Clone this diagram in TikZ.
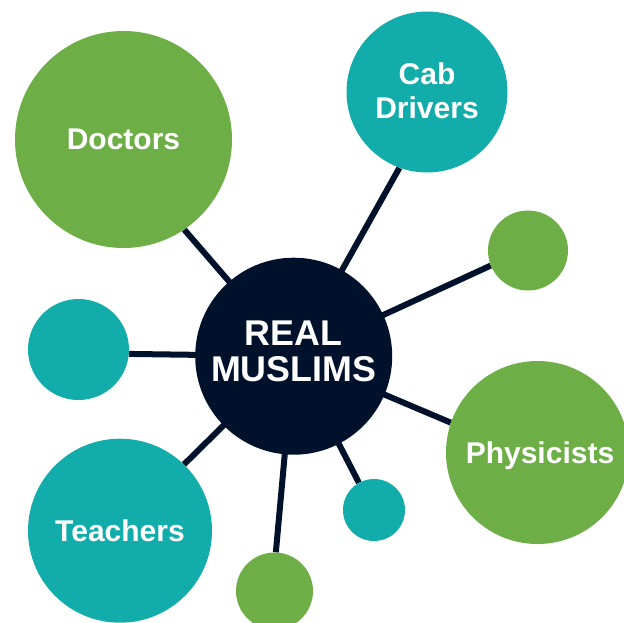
\documentclass[tikz,border=0pt]{standalone}
\usepackage{fontspec}
\setmainfont{Liberation Sans}
\usetikzlibrary{backgrounds}
\definecolor{cgreen}{HTML}{6DAF46}
\definecolor{cteal}{HTML}{12ADAB}
\definecolor{cnavy}{HTML}{00112B}
\tikzset{
  bubble/.style={circle, inner sep=0pt, draw=none, text=white, align=center,
    font=\bfseries\fontsize{30}{34}\selectfont},
  greenb/.style={bubble, fill=cgreen},
  tealb/.style={bubble, fill=cteal},
  hubb/.style={circle, inner sep=0pt, draw=none, fill=cnavy},
  hubtxt/.style={text=white, align=center, inner sep=0pt,
    font=\bfseries\fontsize{35.8}{36}\selectfont},
  spoke/.style={draw=cnavy, line width=6pt}
}
\begin{document}
\begin{tikzpicture}[x=1pt,y=-1pt]
\useasboundingbox (0,0) rectangle (624,622);
\node[hubb, minimum size=197pt] (hub) at (293.7,356.2) {};
\node[hubtxt, yshift=5pt] (hubtext) at (hub) {REAL\\MUSLIMS};
\node[greenb, minimum size=217pt, text depth=0pt] (doc) at (123.5,139.5) {Doctors};
\node[tealb, minimum size=161pt] (cab) at (427,92) {\raisebox{3pt}{Cab}\\\raisebox{3pt}{Drivers}};
\node[greenb, minimum size=80pt] (sg) at (528,250.5) {};
\node[tealb, minimum size=101pt] (tl) at (78.5,349.5) {};
\node[greenb, minimum size=183pt, text depth=0pt] (ph) at (537.5,452.5) {\hspace*{5pt}Physicists};
\node[tealb, minimum size=184pt, text depth=0pt] (te) at (120,530.7) {Teachers};
\node[tealb, minimum size=62pt] (st) at (374,510) {};
\node[greenb, minimum size=77pt] (bg) at (274.5,591) {};
\begin{scope}[on background layer]
  \draw[spoke] (hub.center) -- (doc.304);
  \draw[spoke] (hub.center) -- (cab.250);
  \draw[spoke] (hub.center) -- (sg.202);
  \draw[spoke] (hub.center) -- (tl.355);
  \draw[spoke] (hub.center) -- (te.46);
  \draw[spoke] (hub.center) -- (bg.88);
  \draw[spoke] (hub.center) -- (st.119);
  \draw[spoke] (hub.center) -- (ph.161);
\end{scope}
\end{tikzpicture}
\end{document}
